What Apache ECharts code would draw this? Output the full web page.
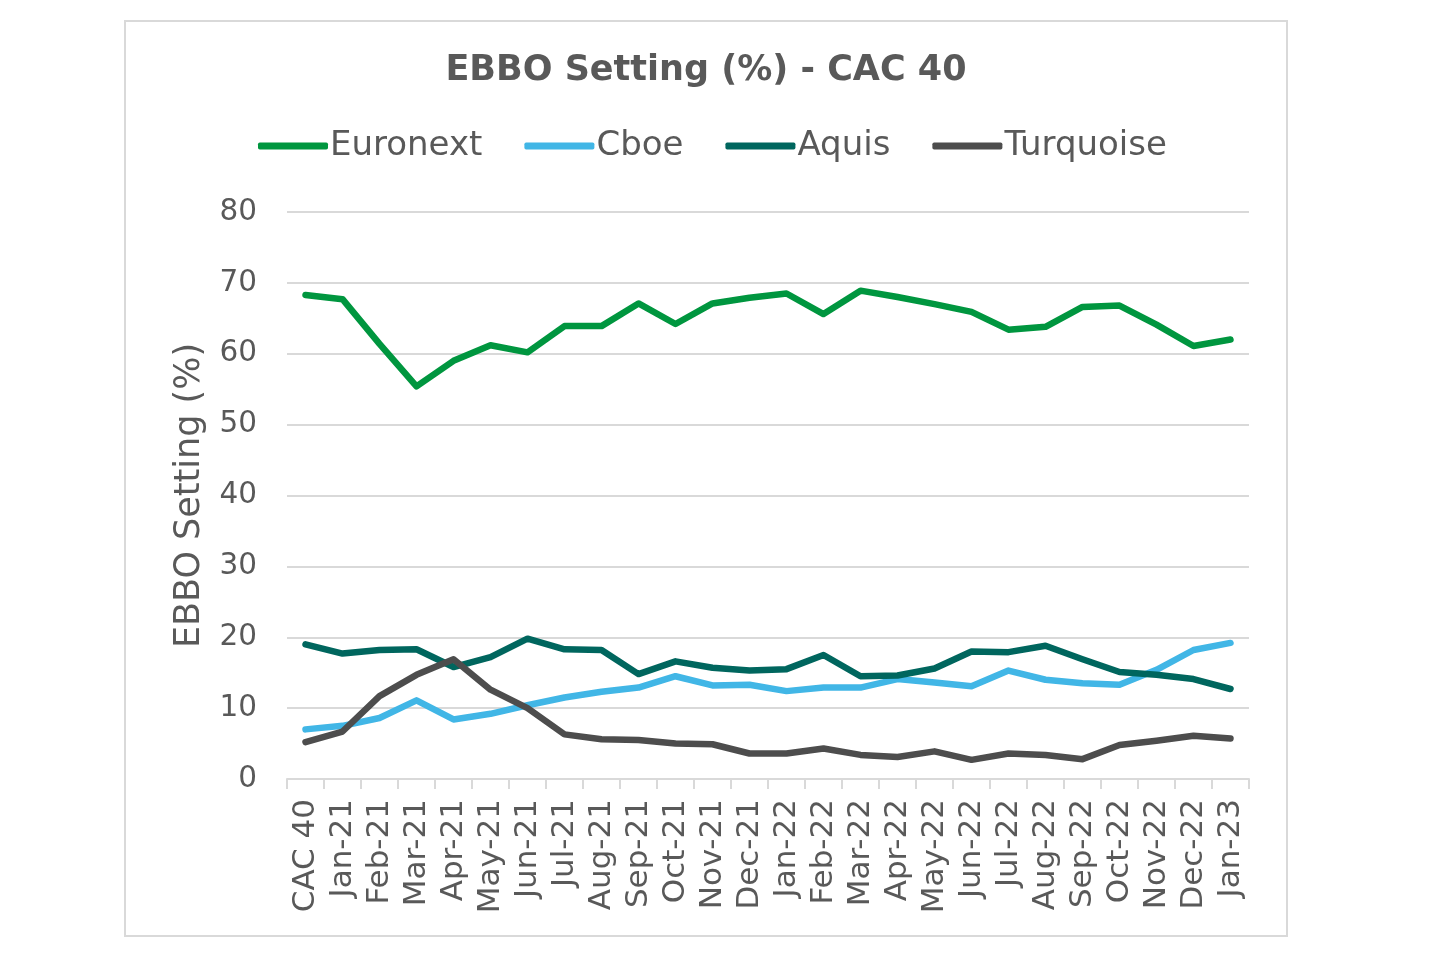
<!DOCTYPE html>
<html>
<head>
<meta charset="utf-8">
<script src="https://cdn.jsdelivr.net/npm/echarts@6/dist/echarts.min.js"></script>
<style>
html,body{margin:0;padding:0;background:#fff;}
#chart{width:1440px;height:960px;}
</style>
</head>
<body>
<div id="chart"></div>
<script>
const categories = ['CAC 40','Jan-21','Feb-21','Mar-21','Apr-21','May-21','Jun-21','Jul-21','Aug-21','Sep-21','Oct-21','Nov-21','Dec-21','Jan-22','Feb-22','Mar-22','Apr-22','May-22','Jun-22','Jul-22','Aug-22','Sep-22','Oct-22','Nov-22','Dec-22','Jan-23'];
const euronext = [68.3,67.7,61.4,55.4,59.0,61.2,60.2,63.9,63.9,67.1,64.2,67.1,67.9,68.5,65.6,68.9,68.0,67.0,65.9,63.4,63.8,66.6,66.8,64.1,61.1,62.0];
const cboe = [7.0,7.5,8.6,11.1,8.4,9.2,10.4,11.5,12.3,12.9,14.5,13.2,13.3,12.4,12.9,12.9,14.1,13.6,13.1,15.3,14.0,13.5,13.3,15.4,18.2,19.2];
const aquis = [19.0,17.7,18.2,18.3,15.8,17.2,19.8,18.3,18.2,14.8,16.6,15.7,15.3,15.5,17.5,14.5,14.6,15.6,18.0,17.9,18.8,16.9,15.1,14.7,14.1,12.7];
const turquoise = [5.2,6.7,11.7,14.7,16.9,12.6,10.0,6.3,5.6,5.5,5.0,4.9,3.6,3.6,4.3,3.4,3.1,3.9,2.7,3.6,3.4,2.8,4.8,5.4,6.1,5.7];
const yTicks = {min:0, max:80, interval:10};

const FONT = 'DejaVu Sans';
const TXT = '#595959';
const chart = echarts.init(document.getElementById('chart'));
function mk(name, data, color){
  return {name, type:'line', data, symbol:'none', smooth:false,
    lineStyle:{width:6.5, color, cap:'round', join:'round'}, itemStyle:{color}};
}
chart.setOption({
  animation:false,
  backgroundColor:'#ffffff',
  graphic:[{type:'rect', shape:{x:125,y:21,width:1162,height:915}, style:{fill:'none', stroke:'#d9d9d9', lineWidth:2}}],
  title:{text:'EBBO Setting (%) - CAC 40', left:701, top:48, textAlign:'center',
    textStyle:{fontFamily:FONT, fontSize:35, fontWeight:'bold', color:TXT}},
  legend:{left:253, top:124, icon:'roundRect', itemWidth:70, itemHeight:7, itemGap:42,
    textStyle:{fontFamily:FONT, fontSize:34, color:TXT, padding:[0,0,0,-3]},
    data:['Euronext','Cboe','Aquis','Turquoise']},
  grid:{left:287, right:191, top:212, bottom:181, containLabel:false},
  xAxis:{type:'category', data:categories, boundaryGap:true,
    axisLine:{lineStyle:{color:'#d9d9d9', width:2}},
    axisTick:{show:true, length:10, lineStyle:{color:'#d9d9d9', width:2}},
    axisLabel:{rotate:90, interval:0, margin:20, fontFamily:FONT, fontSize:31, color:TXT}},
  yAxis:{type:'value', min:yTicks.min, max:yTicks.max, interval:yTicks.interval,
    name:'EBBO Setting (%)', nameLocation:'middle', nameGap:80, nameRotate:90,
    nameTextStyle:{fontFamily:FONT, fontSize:35, color:TXT},
    axisLine:{show:false}, axisTick:{show:false},
    splitLine:{lineStyle:{color:'#d9d9d9', width:2}},
    axisLabel:{margin:30, fontFamily:FONT, fontSize:29.5, color:TXT}},
  series:[
    mk('Euronext', euronext, '#00963f'),
    mk('Cboe', cboe, '#41b6e6'),
    mk('Aquis', aquis, '#00665e'),
    mk('Turquoise', turquoise, '#4d4d4d')
  ]
});
</script>
</body>
</html>
